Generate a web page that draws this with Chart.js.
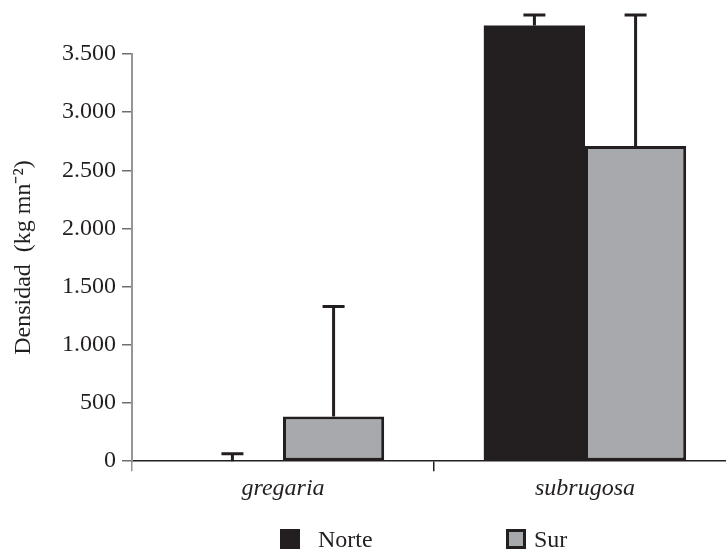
<!DOCTYPE html>
<html>
<head>
<meta charset="utf-8">
<script src="https://cdn.jsdelivr.net/npm/chart.js@4"></script>
<style>
  body { margin: 0; background: #fff; }
  #wrap { position: relative; width: 726px; height: 552px; overflow: hidden; }
  #legend { position: absolute; top: 527px; left: 0; font-family: 'Liberation Serif', 'Times New Roman', serif; font-size: 24px; color: #231f20; }
  .item { position: absolute; top: 0; white-space: nowrap; line-height: 24px; }
  .box { display: inline-block; width: 20px; height: 20px; box-sizing: border-box; vertical-align: top; margin-top: 2px; }
</style>
</head>
<body>
<div id="wrap">
  <canvas id="densChart" width="740" height="552"></canvas>
  <div id="legend"></div>
</div>
<script>
const categories = ['gregaria', 'subrugosa'];
const norte = [0, 3745];
const sur = [385, 2710];
// desviación (solo la parte superior se dibuja)
const norteErr = [65, 90];
const surErr = [945, 1125];
const yTicks = [0, 500, 1000, 1500, 2000, 2500, 3000, 3500];

const dark = '#231f20';
const grey = '#a7a9ac';
const serif = "'Liberation Serif', 'Times New Roman', serif";

Chart.defaults.font.family = serif;
Chart.defaults.color = dark;

const errorBars = {
    id: 'errorBars',
    afterDatasetsDraw(chart) {
        const c = chart.ctx;
        const y = chart.scales.y;
        c.save();
        c.strokeStyle = dark;
        c.lineWidth = 3;
        chart.data.datasets.forEach((ds, i) => {
            const meta = chart.getDatasetMeta(i);
            meta.data.forEach((bar, j) => {
                const top = y.getPixelForValue(ds.data[j] + ds.err[j]);
                c.beginPath();
                c.moveTo(bar.x, bar.y);
                c.lineTo(bar.x, top);
                c.moveTo(bar.x - 11, top);
                c.lineTo(bar.x + 11, top);
                c.stroke();
            });
        });
        c.restore();
    }
};

const fmt = v => String(v).replace(/\B(?=(\d{3})+(?!\d))/g, '.');

const ctx = document.getElementById('densChart').getContext('2d');
const chart = new Chart(ctx, {
    type: 'bar',
    data: {
        labels: categories,
        datasets: [{
            label: 'Norte',
            data: norte,
            err: norteErr,
            backgroundColor: dark,
            borderColor: dark,
            borderWidth: 0,
            clip: false
        }, {
            label: 'Sur',
            data: sur,
            err: surErr,
            backgroundColor: grey,
            borderColor: dark,
            borderWidth: 3,
            borderSkipped: false,
            clip: false
        }]
    },
    options: {
        responsive: false,
        animation: false,
        layout: { padding: { top: 54, right: 4, bottom: 46, left: 0 } },
        plugins: {
            legend: { display: false },
            tooltip: { enabled: false }
        },
        datasets: { bar: { categoryPercentage: 0.67, barPercentage: 1 } },
        scales: {
            x: {
                grid: {
                    offset: true,
                    drawOnChartArea: false,
                    tickLength: 10,
                    lineWidth: 1.5,
                    color: c => c.index === 0 ? '#939598' : (c.index === 1 ? dark : 'rgba(0,0,0,0)')
                },
                border: { color: dark, width: 1.5 },
                ticks: { padding: 3, font: { size: 24, style: 'italic' }, color: dark }
            },
            y: {
                min: 0,
                max: 3500,
                afterFit: s => { s.width = 132; },
                afterBuildTicks: s => { s.ticks = yTicks.map(v => ({ value: v })); },
                grid: { drawOnChartArea: false, tickLength: 10, color: '#6d6e71', lineWidth: 1.5 },
                border: { color: '#939598', width: 2 },
                ticks: { padding: 6, font: { size: 24 }, color: dark, callback: v => fmt(v) },
                title: {
                    display: true,
                    text: 'Densidad  (kg mn\u207B\u00B2)',
                    font: { size: 24 },
                    color: dark,
                    padding: { top: 9, bottom: 0 }
                }
            }
        }
    },
    plugins: [errorBars]
});

// leyenda en HTML
const leg = document.getElementById('legend');
const legX = [280, 506];
chart.data.datasets.forEach((ds, i) => {
    const item = document.createElement('div');
    item.className = 'item';
    item.style.left = legX[i] + 'px';
    const box = document.createElement('span');
    box.className = 'box';
    box.style.background = ds.backgroundColor;
    box.style.border = '3px solid ' + ds.borderColor;
    box.style.marginRight = (i === 0 ? 18 : 8) + 'px';
    item.appendChild(box);
    item.appendChild(document.createTextNode(ds.label));
    leg.appendChild(item);
});
</script>
</body>
</html>
